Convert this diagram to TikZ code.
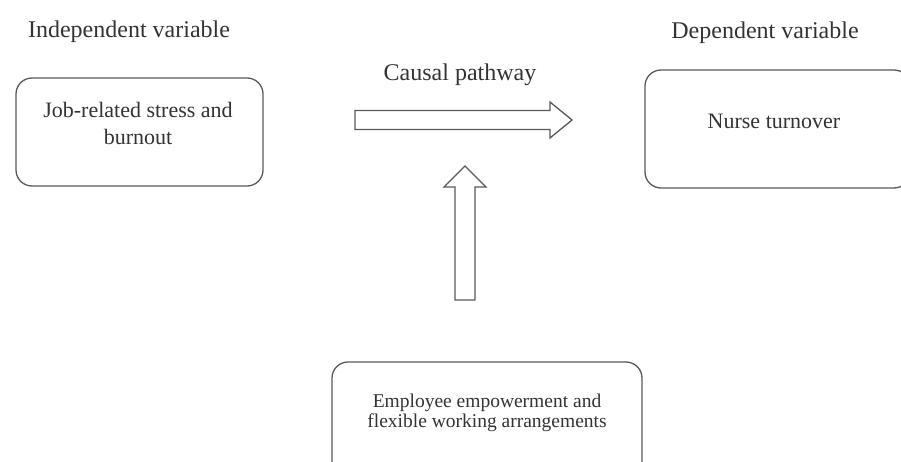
\documentclass[tikz,border=0pt]{standalone}
\usepackage{fontspec}
\setmainfont{Liberation Serif}
\begin{document}
\begin{tikzpicture}[x=1pt,y=-1pt,
  box/.style={draw=black!65, line width=1.3pt, rounded corners=16pt, rectangle, inner sep=0pt},
  blockarrow/.style={draw=black!65, line width=1.3pt, fill=white, line join=miter},
  head/.style={font=\fontsize{24}{28}\selectfont, text=black!80, inner sep=0pt},
  boxtext/.style={font=\fontsize{22}{27}\selectfont, text=black!80, align=center, inner sep=0pt},
  smalltext/.style={font=\fontsize{19.5}{20}\selectfont, text=black!80, align=center, inner sep=0pt}]
\useasboundingbox (0,0) rectangle (901,462);
\clip (0,0) rectangle (901,462);
% boxes
\node[box, minimum width=247pt, minimum height=108pt] (ivbox) at (139.5,132) {};
\node[box, minimum width=265pt, minimum height=118pt] (dvbox) at (777.5,129) {};
\node[box, minimum width=310pt, minimum height=118pt] (modbox) at (487,421) {};
% headings
\node[head] (iv) at (129,32) {Independent variable};
\node[head] (dv) at (765,33) {Dependent variable};
\node[head] (cp) at (460,75) {Causal pathway};
% box texts
\node[boxtext] (jobtxt) at (138,123.5) {Job-related stress and\\burnout};
\node[boxtext] (nursetxt) at (774,121) {Nurse turnover};
\node[smalltext] (emptxt) at (487,412.5) {Employee empowerment and\\flexible working arrangements};
% horizontal block arrow
\draw[blockarrow] (355,110.5) -- (550,110.5) -- (550,102) -- (572,120) -- (550,138) -- (550,129.5) -- (355,129.5) -- cycle;
% vertical block arrow
\draw[blockarrow] (455,300) -- (455,187) -- (444,187) -- (465,166) -- (486,187) -- (475,187) -- (475,300) -- cycle;
\end{tikzpicture}
\end{document}
